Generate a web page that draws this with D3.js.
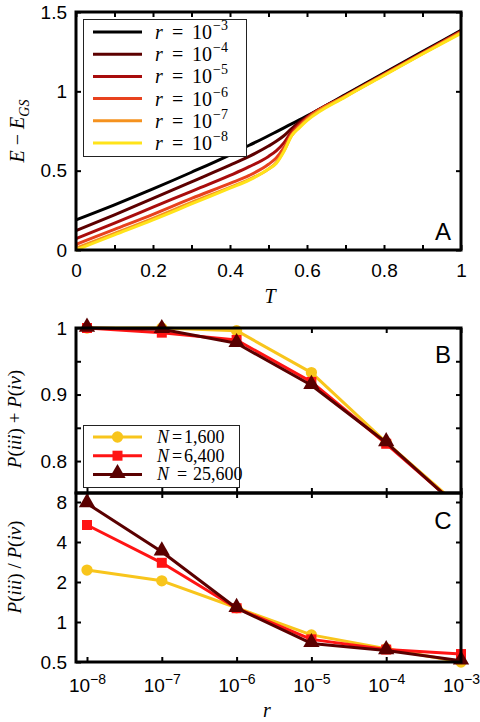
<!DOCTYPE html>
<html><head><meta charset="utf-8">
<script src="https://cdn.jsdelivr.net/npm/d3@7"></script>
<style>
html,body{margin:0;padding:0;background:#fff;}
svg{display:block;}
.tick text{font-family:"Liberation Sans",Arial,sans-serif;font-size:19px;fill:#000;}
.math{font-family:"Liberation Serif","Times New Roman",serif;fill:#000;}
</style></head>
<body>
<svg id="chart" width="480" height="722"></svg>
<script>
// ---------- Data ----------
// Panel A: energy above ground state vs temperature, for different rates r
const temperature = [0,0.1,0.2,0.3,0.4,0.45,0.5,0.52,0.54,0.56,0.58,0.6,0.7,0.8,0.9,1.0];
const energyR3 = [0.19,0.285,0.385,0.49,0.60,0.66,0.72,0.745,0.77,0.795,0.82,0.845,0.98,1.115,1.25,1.385];
const energyR4 = [0.122,0.222,0.325,0.43,0.535,0.59,0.655,0.685,0.72,0.765,0.805,0.84,0.975,1.11,1.245,1.38];
const energyR5 = [0.072,0.17,0.27,0.37,0.47,0.525,0.59,0.625,0.675,0.745,0.795,0.835,0.972,1.108,1.242,1.378];
const energyR6 = [0.035,0.13,0.225,0.325,0.42,0.47,0.54,0.58,0.645,0.73,0.785,0.83,0.97,1.105,1.24,1.375];
const energyR7 = [0.012,0.105,0.2,0.3,0.395,0.445,0.51,0.55,0.625,0.72,0.775,0.822,0.968,1.103,1.237,1.37];
const energyR8 = [0.0,0.095,0.19,0.29,0.39,0.44,0.51,0.545,0.62,0.72,0.77,0.815,0.965,1.1,1.235,1.365];
const rateLabels = ["−3","−4","−5","−6","−7","−8"];
const rateColors = ["#000000","#5c0000","#a80c0c","#e8421e","#f5921f","#ffe31a"];
const tempTicks = [0,0.1,0.2,0.3,0.4,0.5,0.6,0.7,0.8,0.9,1.0];
const energyTicks = [0,0.5,1,1.5];

// Panels B, C
const rateValues = [1e-8,1e-7,1e-6,1e-5,1e-4,1e-3];
const sumN1600  = [1.0,1.0,0.996,0.933,0.828,0.73];
const sumN6400  = [1.0,0.993,0.982,0.919,0.826,0.728];
const sumN25600 = [1.0,0.998,0.977,0.914,0.828,0.727];
const ratioN1600  = [2.46,2.04,1.28,0.80,0.63,0.50];
const ratioN6400  = [5.37,2.79,1.27,0.74,0.62,0.574];
const ratioN25600 = [7.8,3.38,1.27,0.69,0.61,0.51];
const sumTicks = [0.8,0.85,0.9,0.95,1.0];
const ratioTicks = [0.5,1,2,4,8];
const sizeLabels = ["1,600","6,400","25,600"];
const sizeColors = ["#f8c51c","#ff1414","#5a0000"];
const sizeMarkers = ["circle","square","triangle"];

// ---------- Layout ----------
const svg = d3.select("#chart");
const L = 76, R = 461;
const A = {top:12, bottom:250}, B = {top:328, bottom:493}, C = {top:493, bottom:662};
const SANS = "Liberation Sans, Arial, sans-serif";

function frame(g, top, bottom){
  g.append("rect").attr("x",L).attr("y",top).attr("width",R-L).attr("height",bottom-top)
   .attr("fill","none").attr("stroke","#000").attr("stroke-width",3);
}
function styleAxis(g){
  g.attr("font-family",SANS).attr("font-size",19);
  g.select(".domain").remove();
  g.selectAll(".tick line").attr("stroke","#000").attr("stroke-width",2);
}

// ---------- Panel A ----------
const xA = d3.scaleLinear().domain([0,1]).range([L,R]);
const yA = d3.scaleLinear().domain([0,1.5]).range([A.bottom,A.top]);
const gA = svg.append("g");
gA.append("g").attr("transform",`translate(0,${A.bottom})`)
  .call(d3.axisBottom(xA).tickValues(tempTicks).tickSize(-5).tickPadding(14)
     .tickFormat(d => (Math.round(d*10)%2===0) ? d3.format("~g")(d) : ""))
  .call(styleAxis);
gA.append("g").attr("transform",`translate(0,${A.top})`)
  .call(d3.axisTop(xA).tickValues(tempTicks).tickSize(-5).tickFormat(""))
  .call(styleAxis);
gA.append("g").attr("transform",`translate(${L},0)`)
  .call(d3.axisLeft(yA).tickValues(energyTicks).tickSize(-5).tickPadding(9).tickFormat(d3.format("~g")))
  .call(styleAxis);
gA.append("g").attr("transform",`translate(${R},0)`)
  .call(d3.axisRight(yA).tickValues(energyTicks).tickSize(-5).tickFormat(""))
  .call(styleAxis);

const lineA = d3.line().x((d,i)=>xA(temperature[i])).y(d=>yA(d)).curve(d3.curveMonotoneX);
const energies = [energyR3,energyR4,energyR5,energyR6,energyR7,energyR8];
energies.forEach((arr,i)=>{
  gA.append("path").datum(arr).attr("d",lineA).attr("fill","none")
    .attr("stroke",rateColors[i]).attr("stroke-width",3).attr("stroke-linejoin","round");
});
frame(gA,A.top,A.bottom);

// legend A
const legA = gA.append("g");
legA.append("rect").attr("x",83.5).attr("y",19.5).attr("width",163).attr("height",137)
  .attr("fill","#fff").attr("stroke","#222").attr("stroke-width",1);
rateLabels.forEach((lab,i)=>{
  const yy = 32 + i*22.2;
  legA.append("line").attr("x1",93).attr("x2",142).attr("y1",yy).attr("y2",yy)
    .attr("stroke",rateColors[i]).attr("stroke-width",3);
  const t = legA.append("text").attr("class","math").attr("y",yy+7).attr("font-size",20);
  t.append("tspan").attr("x",155).attr("font-style","italic").text("r");
  t.append("tspan").attr("x",172).text("=");
  t.append("tspan").attr("x",192).text("10");
  t.append("tspan").attr("x",213).attr("dy",-9).attr("font-size",14).text(lab);
});
gA.append("text").attr("x",443).attr("y",240).attr("text-anchor","middle")
  .attr("font-family",SANS).attr("font-size",24).text("A");
// axis labels
gA.append("text").attr("class","math").attr("x",270).attr("y",303)
  .attr("text-anchor","middle").attr("font-size",20).attr("font-style","italic").text("T");
const yla = gA.append("text").attr("class","math").attr("transform","translate(24,131) rotate(-90)")
  .attr("text-anchor","middle").attr("font-size",20);
yla.append("tspan").attr("font-style","italic").text("E");
yla.append("tspan").text(" − ");
yla.append("tspan").attr("font-style","italic").text("E");
yla.append("tspan").attr("font-style","italic").attr("font-size",14).attr("dy",5).text("GS");

// ---------- Panels B & C ----------
const xR = d3.scaleLog().domain([Math.pow(10,-8.147),1e-3]).range([L,R]);
const yB = d3.scaleLinear().domain([0.752,1.0]).range([B.bottom,B.top]);
const yC = d3.scaleLog().base(2).domain([0.5,9.35]).range([C.bottom,C.top]);

svg.append("defs").append("clipPath").attr("id","clipB").append("rect")
  .attr("x",L).attr("y",B.top-20).attr("width",R-L+20).attr("height",B.bottom-B.top+20);

const symbolFor = {circle:d3.symbolCircle, square:d3.symbolSquare, triangle:d3.symbolTriangle};
const symbolSize = {circle:100, square:100, triangle:115};

function drawPanel(g, yScale, series, clip){
  const line = d3.line().x((d,i)=>xR(rateValues[i])).y(d=>yScale(d));
  series.forEach((arr,s)=>{
    const p = g.append("path").datum(arr).attr("d",line).attr("fill","none")
      .attr("stroke",sizeColors[s]).attr("stroke-width",3).attr("stroke-linejoin","round");
    if(clip) p.attr("clip-path","url(#clipB)");
    arr.forEach((v,i)=>{
      if(v < yScale.domain()[0]) return;
      g.append("path").attr("d",d3.symbol().type(symbolFor[sizeMarkers[s]]).size(symbolSize[sizeMarkers[s]])())
        .attr("transform",`translate(${xR(rateValues[i])},${yScale(v) + (sizeMarkers[s]==="triangle"?-1:0)})`)
        .attr("fill",sizeColors[s]);
    });
  });
}

const gB = svg.append("g");
gB.append("g").attr("transform",`translate(0,${B.bottom})`)
  .call(d3.axisBottom(xR).tickValues(rateValues).tickSize(-5).tickFormat("")).call(styleAxis);
gB.append("g").attr("transform",`translate(0,${B.top})`)
  .call(d3.axisTop(xR).tickValues(rateValues).tickSize(-5).tickFormat("")).call(styleAxis);
gB.append("g").attr("transform",`translate(${L},0)`)
  .call(d3.axisLeft(yB).tickValues(sumTicks).tickSize(-5).tickPadding(9)
    .tickFormat(d => (Math.abs(d*10-Math.round(d*10))<1e-6) ? d3.format("~g")(d) : ""))
  .call(styleAxis);
gB.append("g").attr("transform",`translate(${R},0)`)
  .call(d3.axisRight(yB).tickValues(sumTicks).tickSize(-5).tickFormat("")).call(styleAxis);
drawPanel(gB, yB, [sumN1600,sumN6400,sumN25600], true);

const gC = svg.append("g");
gC.append("g").attr("transform",`translate(0,${C.bottom})`)
  .call(d3.axisBottom(xR).tickValues(rateValues).tickSize(-5).tickPadding(17).tickFormat(""))
  .call(styleAxis)
  .call(g=>g.selectAll(".tick text").each(function(d){
      const t = d3.select(this);
      t.append("tspan").text("10");
      t.append("tspan").attr("dy",-8).attr("font-size",14).text("−"+Math.round(-Math.log10(d)));
  }));
gC.append("g").attr("transform",`translate(0,${C.top})`)
  .call(d3.axisTop(xR).tickValues(rateValues).tickSize(-5).tickFormat("")).call(styleAxis);
gC.append("g").attr("transform",`translate(${L},0)`)
  .call(d3.axisLeft(yC).tickValues(ratioTicks).tickSize(-5).tickPadding(9).tickFormat(d3.format("~g")))
  .call(styleAxis);
gC.append("g").attr("transform",`translate(${R},0)`)
  .call(d3.axisRight(yC).tickValues(ratioTicks).tickSize(-5).tickFormat("")).call(styleAxis);
drawPanel(gC, yC, [ratioN1600,ratioN6400,ratioN25600], false);

frame(gB,B.top,B.bottom);
frame(gC,C.top,C.bottom);

// legend B
const legB = gB.append("g");
legB.append("rect").attr("x",83.5).attr("y",425.5).attr("width",156).attr("height",62)
  .attr("fill","#fff").attr("stroke","#222").attr("stroke-width",1);
sizeLabels.forEach((lab,i)=>{
  const yy = 437 + i*18.7;
  legB.append("line").attr("x1",93).attr("x2",142).attr("y1",yy).attr("y2",yy)
    .attr("stroke",sizeColors[i]).attr("stroke-width",3);
  legB.append("path").attr("d",d3.symbol().type(symbolFor[sizeMarkers[i]]).size(symbolSize[sizeMarkers[i]])())
    .attr("transform",`translate(117.5,${yy + (sizeMarkers[i]==="triangle"?-1:0)})`).attr("fill",sizeColors[i]);
  const t = legB.append("text").attr("class","math").attr("y",yy+6).attr("font-size",18);
  t.append("tspan").attr("x",157).attr("font-style","italic").text("N");
  if(i<2){
    t.append("tspan").attr("x",172).text("=");
    t.append("tspan").attr("x",184).text(lab);
  } else {
    t.append("tspan").attr("x",177).text("=");
    t.append("tspan").attr("x",193).text(lab);
  }
});

gB.append("text").attr("x",443).attr("y",363).attr("text-anchor","middle")
  .attr("font-family",SANS).attr("font-size",24).text("B");
gC.append("text").attr("x",443).attr("y",529).attr("text-anchor","middle")
  .attr("font-family",SANS).attr("font-size",24).text("C");

function pLabel(g, cx, cy, op){
  const t = g.append("text").attr("class","math").attr("transform",`translate(${cx},${cy}) rotate(-90)`)
    .attr("text-anchor","middle").attr("font-size",19);
  t.append("tspan").attr("font-style","italic").text("P");
  t.append("tspan").text("(");
  t.append("tspan").attr("font-style","italic").text("iii");
  t.append("tspan").text(")" + op);
  t.append("tspan").attr("font-style","italic").text("P");
  t.append("tspan").text("(");
  t.append("tspan").attr("font-style","italic").text("iv");
  t.append("tspan").text(")");
}
pLabel(gB, 21, 419, " + ");
pLabel(gC, 21, 567, " / ");
gC.append("text").attr("class","math").attr("x",267).attr("y",717).attr("text-anchor","middle")
  .attr("font-size",20).attr("font-style","italic").text("r");
</script>
</body></html>
